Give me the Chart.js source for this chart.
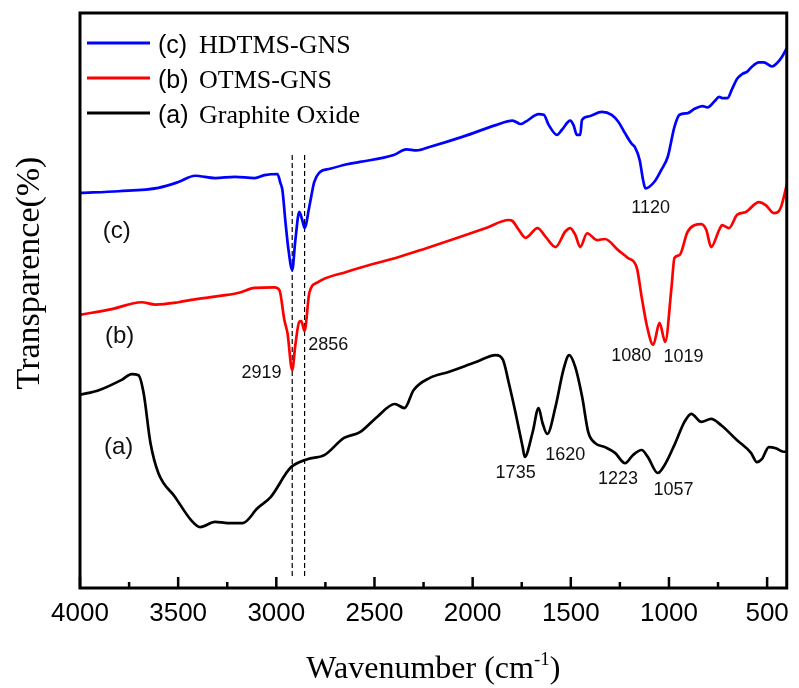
<!DOCTYPE html>
<html><head><meta charset="utf-8">
<script src="https://cdn.jsdelivr.net/npm/chart.js@4.4.1/dist/chart.umd.min.js"></script>
<style>html,body{margin:0;padding:0;background:#fff}#wrap{width:799px;height:688px}</style>
</head><body><div id="wrap"><canvas id="c" width="799" height="688"></canvas></div>
<script>
// ---- data ----
const seriesLabels = ['(c) HDTMS-GNS', '(b) OTMS-GNS', '(a) Graphite Oxide'];

const hdtmsWave = [4000,3803,3601,3499,3414,3312,3211,3110,3060,2994,2979,2969,2953,2938,2919,2903,2883,2868,2856,2832,2807,2782,2726,2640,2574,2402,2337,2286,2220,2049,1882,1797,1755,1730,1663,1638,1612,1570,1545,1503,1486,1469,1452,1443,1410,1342,1292,1258,1224,1191,1174,1149,1132,1120,1073,1039,1006,972,946,904,871,829,803,769,744,728,702,677,652,626,601,576,542,517,475,449,424,400];
const hdtmsT = [68.7,69.0,69.6,70.6,71.7,71.3,71.5,71.3,71.8,72.0,70.4,69.2,63.5,58.8,55.3,60.5,65.4,64.0,62.6,66.3,70.6,72.2,72.9,73.7,74.1,75.3,76.3,76.1,76.7,78.5,80.5,81.3,80.7,81.1,82.4,82.3,80.5,78.8,79.7,81.3,80.5,78.8,78.8,81.4,82.0,82.8,82.3,81.1,79.1,77.3,76.7,74.4,71.0,69.5,70.7,72.7,75.0,80.2,82.3,82.6,83.3,83.8,83.6,84.6,85.4,85.2,85.2,86.9,88.6,89.4,89.8,90.7,91.4,91.4,90.7,91.3,92.4,93.9];

const otmsWave = [4000,3838,3687,3616,3499,3434,3333,3196,3110,3009,2984,2959,2943,2919,2903,2883,2873,2856,2832,2792,2640,2574,2372,2236,2069,1932,1816,1796,1765,1730,1669,1629,1578,1528,1503,1477,1452,1417,1366,1326,1260,1209,1164,1139,1113,1080,1048,1019,987,972,946,906,871,835,810,785,744,729,694,653,608,542,507,466,431,400];
const otmsT = [47.5,48.5,49.7,49.3,49.7,50.1,50.6,51.3,52.2,52.3,51.8,46.6,44.3,37.9,42.3,46.3,46.4,44.7,51.3,53.1,55.0,55.7,57.6,59.1,61.0,62.6,64.0,63.8,62.3,60.9,62.6,61.1,59.3,62.0,62.6,61.4,59.3,61.7,60.5,60.7,58.8,57.4,55.7,50.6,45.7,42.3,46.1,42.8,52.3,57.4,57.9,61.9,63.1,63.3,62.3,59.3,62.3,63.1,62.6,64.9,65.4,67.1,66.6,65.2,66.1,70.1];

const goWave = [4000,3904,3788,3737,3702,3676,3641,3601,3515,3434,3388,3312,3247,3171,3095,3029,2928,2842,2756,2655,2574,2488,2397,2347,2301,2220,2119,1983,1882,1846,1816,1781,1745,1735,1695,1664,1644,1620,1578,1538,1508,1477,1442,1411,1376,1326,1275,1223,1184,1139,1108,1057,1022,972,921,886,835,785,734,653,582,552,527,491,456,416,400];
const goT = [33.6,34.4,36.2,37.2,37.0,33.9,25.2,20.0,15.8,11.8,10.6,11.5,11.3,11.3,13.9,15.8,20.9,22.4,23.1,26.1,27.1,29.7,32.0,31.3,34.4,36.5,37.6,39.3,40.5,39.7,35.7,30.4,24.5,22.8,27.0,31.3,28.7,26.8,31.5,37.9,40.5,38.4,33.2,27.1,25.2,24.5,23.5,21.7,23.1,24.0,22.8,20.0,21.4,24.9,28.9,30.3,28.9,29.4,28.3,25.7,23.5,21.9,22.4,24.5,24.3,23.7,23.7];

const xTickValues = [4000,3500,3000,2500,2000,1500,1000,500];
const xMinorTicks = [3750,3250,2750,2250,1750,1250,750];

const markerWaves = [2919, 2856];
const markerRange = [1.7, 75.3];

const peakLabels = ['2919','2856','1120','1080','1019','1735','1620','1223','1057'];
const peakLabelX = [3075,2736,1093,1192,926,1781,1528,1260,977];
const peakLabelY = [37.4,42.3,66.1,40.3,40.2,20.0,23.1,18.9,17.0];

const curveTags = ['(c)','(b)','(a)'];
const curveTagX = [3813,3798,3803];
const curveTagY = [62.1,43.7,24.5];

// ---- styling ----
const FONT_SANS = "'Liberation Sans', Arial, sans-serif";
const FONT_SERIF = "'Liberation Serif', 'Times New Roman', serif";
const colors = ['#0000ff', '#ff0000', '#000000'];

const toPts = (w, t) => w.map((x, i) => ({x, y: t[i]}));
const seriesData = [toPts(hdtmsWave, hdtmsT), toPts(otmsWave, otmsT), toPts(goWave, goT)];

const datasets = [];
[2,1,0].forEach(i => datasets.push({
  label: seriesLabels[i], data: seriesData[i], borderColor: colors[i],
  borderWidth: 2.7, pointRadius: 0, cubicInterpolationMode: 'monotone', fill: false
}));
markerWaves.forEach(w => datasets.push({
  label: 'marker', data: [{x: w, y: markerRange[1]}, {x: w, y: markerRange[0]}],
  borderColor: '#000', borderWidth: 1.2, borderDash: [5, 3], pointRadius: 0, tension: 0, fill: false
}));

const decor = {
  id: 'decor',
  afterDatasetsDraw(chart) {
    const {ctx, chartArea: a, scales: {x, y}} = chart;
    ctx.save();
    ctx.strokeStyle = '#000';
    ctx.lineWidth = 3;
    ctx.strokeRect(a.left, a.top, a.right - a.left, a.bottom - a.top);
    ctx.lineWidth = 2.5;
    const tick = (v, len) => {
      const px = x.getPixelForValue(v);
      ctx.beginPath(); ctx.moveTo(px, a.bottom); ctx.lineTo(px, a.bottom - len); ctx.stroke();
    };
    xTickValues.forEach(v => tick(v, 11));
    xMinorTicks.forEach(v => tick(v, 6));

    // legend
    const legY = [43, 78, 113];
    seriesLabels.forEach((lab, i) => {
      const ly = legY[i];
      ctx.strokeStyle = colors[i]; ctx.lineWidth = 3;
      ctx.beginPath(); ctx.moveTo(87, ly); ctx.lineTo(150, ly); ctx.stroke();
      const sp = lab.indexOf(' ');
      ctx.fillStyle = '#000';
      ctx.textBaseline = 'alphabetic'; ctx.textAlign = 'left';
      ctx.font = '25px ' + FONT_SANS;
      ctx.fillText(lab.slice(0, sp), 158, ly + 10);
      ctx.font = '26px ' + FONT_SERIF;
      ctx.fillText(lab.slice(sp + 1), 199, ly + 10);
    });

    // peak labels
    ctx.fillStyle = '#111';
    ctx.textAlign = 'center'; ctx.textBaseline = 'middle';
    ctx.font = '18px ' + FONT_SANS;
    peakLabels.forEach((t, i) => ctx.fillText(t, x.getPixelForValue(peakLabelX[i]), y.getPixelForValue(peakLabelY[i])));
    ctx.font = '24px ' + FONT_SANS;
    curveTags.forEach((t, i) => ctx.fillText(t, x.getPixelForValue(curveTagX[i]), y.getPixelForValue(curveTagY[i])));

    // x title with superscript
    ctx.fillStyle = '#000';
    ctx.textBaseline = 'alphabetic'; ctx.textAlign = 'left';
    const t1 = 'Wavenumber (cm', t2 = '-1', t3 = ')';
    ctx.font = '32px ' + FONT_SERIF; const w1 = ctx.measureText(t1).width, w3 = ctx.measureText(t3).width;
    ctx.font = '19px ' + FONT_SERIF; const w2 = ctx.measureText(t2).width;
    const cx = (a.left + a.right) / 2;
    let sx = cx - (w1 + w2 + w3) / 2;
    const base = 678;
    ctx.font = '32px ' + FONT_SERIF; ctx.fillText(t1, sx, base); sx += w1;
    ctx.font = '19px ' + FONT_SERIF; ctx.fillText(t2, sx, base - 13); sx += w2;
    ctx.font = '32px ' + FONT_SERIF; ctx.fillText(t3, sx, base);

    // y title
    ctx.save();
    ctx.translate(30, 273);
    ctx.rotate(-Math.PI / 2);
    ctx.textAlign = 'center'; ctx.textBaseline = 'middle';
    ctx.font = '34px ' + FONT_SERIF;
    ctx.fillText('Transparence(%)', 0, 0);
    ctx.restore();

    ctx.restore();
  }
};

new Chart(document.getElementById('c'), {
  type: 'line',
  data: {datasets},
  options: {
    responsive: false, animation: false, devicePixelRatio: 1,
    layout: {padding: {top: 13, right: 7, left: 0, bottom: 0}},
    plugins: {legend: {display: false}, tooltip: {enabled: false}},
    scales: {
      x: {
        type: 'linear', reverse: true, min: 400, max: 4000,
        afterBuildTicks: s => { s.ticks = xTickValues.map(v => ({value: v})); },
        afterFit: s => { s.height = 100; },
        grid: {display: false, drawTicks: false}, border: {display: false},
        ticks: {font: {family: FONT_SANS, size: 26}, color: '#000', padding: 10, maxRotation: 0, autoSkip: false, callback: v => String(v)}
      },
      y: {
        min: 0, max: 100,
        afterFit: s => { s.width = 80; },
        grid: {display: false}, border: {display: false}, ticks: {display: false}
      }
    }
  },
  plugins: [decor]
});
</script></body></html>
